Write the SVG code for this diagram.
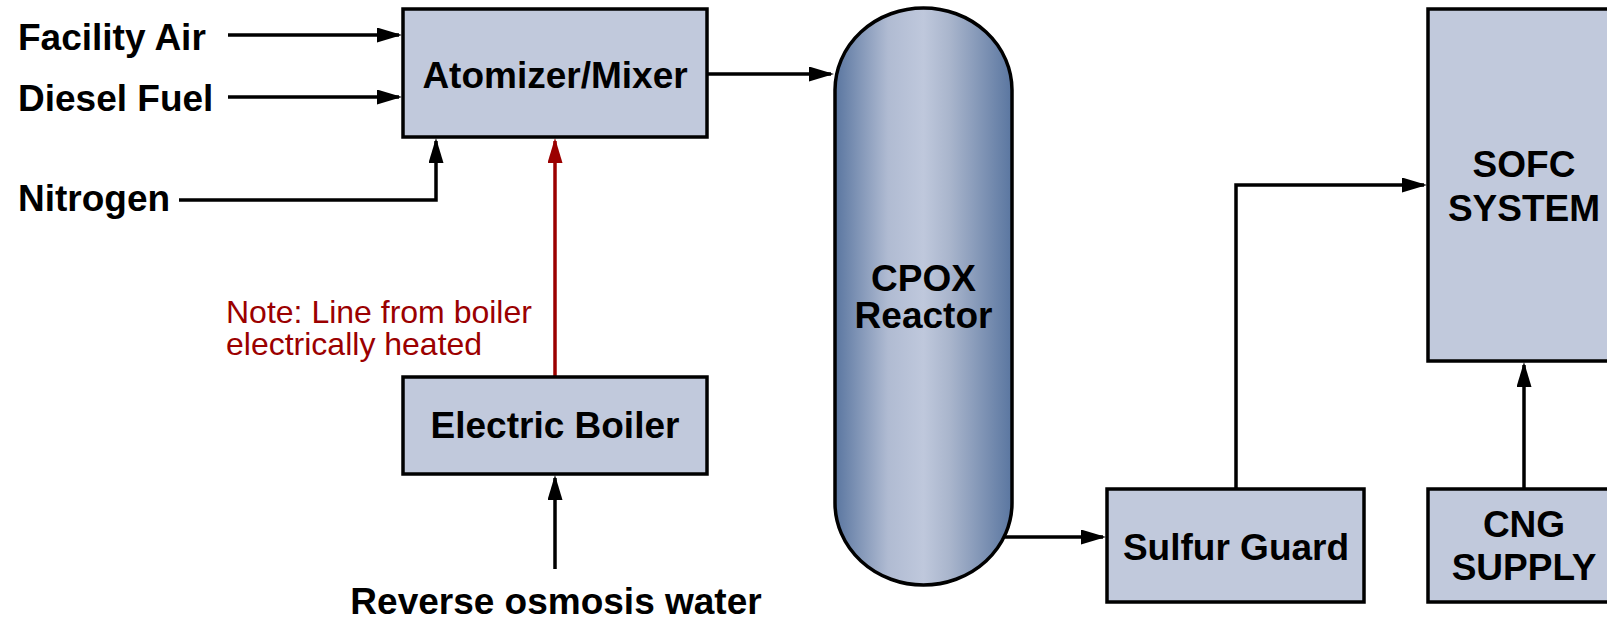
<svg xmlns="http://www.w3.org/2000/svg" width="1607" height="620" viewBox="0 0 1607 620">
<style>
.box{fill:#c1c9dc;stroke:#000;stroke-width:3.5}
.lbl{font-family:"Liberation Sans",Arial,sans-serif;font-weight:bold;font-size:37px;fill:#000;text-anchor:middle}
.in{font-family:"Liberation Sans",Arial,sans-serif;font-weight:bold;font-size:37px;fill:#000}
.note{font-family:"Liberation Sans",Arial,sans-serif;font-size:32px;fill:#9b0000}
.c{fill:none;stroke:#000;stroke-width:3.5;marker-end:url(#ah)}
.r{fill:none;stroke:#9b0000;stroke-width:3.5;marker-end:url(#ahr)}
</style>
<defs>
<marker id="ah" viewBox="0 0 25 15" refX="22" refY="7.5" markerWidth="25" markerHeight="15" orient="auto" markerUnits="userSpaceOnUse"><path d="M0,0 L25,7.5 L0,15 z" fill="#000"/></marker>
<marker id="ahr" viewBox="0 0 25 15" refX="22" refY="7.5" markerWidth="25" markerHeight="15" orient="auto" markerUnits="userSpaceOnUse"><path d="M0,0 L25,7.5 L0,15 z" fill="#9b0000"/></marker>
<linearGradient id="cpox" x1="0" y1="0" x2="1" y2="0">
<stop offset="0" stop-color="#5a76a0"/>
<stop offset="0.3" stop-color="#b0bbd2"/>
<stop offset="0.5" stop-color="#bfc8dc"/>
<stop offset="0.65" stop-color="#a9b5cc"/>
<stop offset="1" stop-color="#5a76a0"/>
</linearGradient>
</defs>
<g id="connectors">
<path class="c" d="M228,35 H399"/>
<path class="c" d="M228,97 H399"/>
<path class="c" d="M179,200 H436 V141"/>
<path class="r" d="M555,376 V141"/>
<path class="c" d="M555,569 V478"/>
<path class="c" d="M707,74 H831"/>
<path class="c" d="M1003,537 H1103"/>
<path class="c" d="M1236,488 V185 H1424"/>
<path class="c" d="M1524,488 V365"/>
</g>
<g id="labels">
<text class="in" x="18" y="50">Facility Air</text>
<text class="in" x="18" y="111">Diesel Fuel</text>
<text class="in" x="18" y="211">Nitrogen</text>
<text class="note" x="226" y="323">Note: Line from boiler</text>
<text class="note" x="226" y="355">electrically heated</text>
<text class="lbl" x="556" y="614">Reverse osmosis water</text>
</g>
<g id="atomizer">
<rect class="box" x="403" y="9" width="304" height="128"/>
<text class="lbl" x="555" y="88">Atomizer/Mixer</text>
</g>
<g id="boiler">
<rect class="box" x="403" y="377" width="304" height="97"/>
<text class="lbl" x="555" y="438">Electric Boiler</text>
</g>
<g id="cpox-reactor">
<path d="M835,90 A88.5,82 0 0 1 1012,90 V503 A88.5,82 0 0 1 835,503 Z" fill="url(#cpox)" stroke="#000" stroke-width="3.5"/>
<text class="lbl" x="923.5" y="291">CPOX</text>
<text class="lbl" x="923.5" y="328">Reactor</text>
</g>
<g id="sulfur-guard">
<rect class="box" x="1107" y="489" width="257" height="113"/>
<text class="lbl" x="1236" y="560">Sulfur Guard</text>
</g>
<g id="sofc">
<rect class="box" x="1428" y="9" width="200" height="352"/>
<text class="lbl" x="1524" y="177">SOFC</text>
<text class="lbl" x="1524" y="221">SYSTEM</text>
</g>
<g id="cng">
<rect class="box" x="1428" y="489" width="200" height="113"/>
<text class="lbl" x="1524" y="537">CNG</text>
<text class="lbl" x="1524" y="580">SUPPLY</text>
</g>
</svg>
